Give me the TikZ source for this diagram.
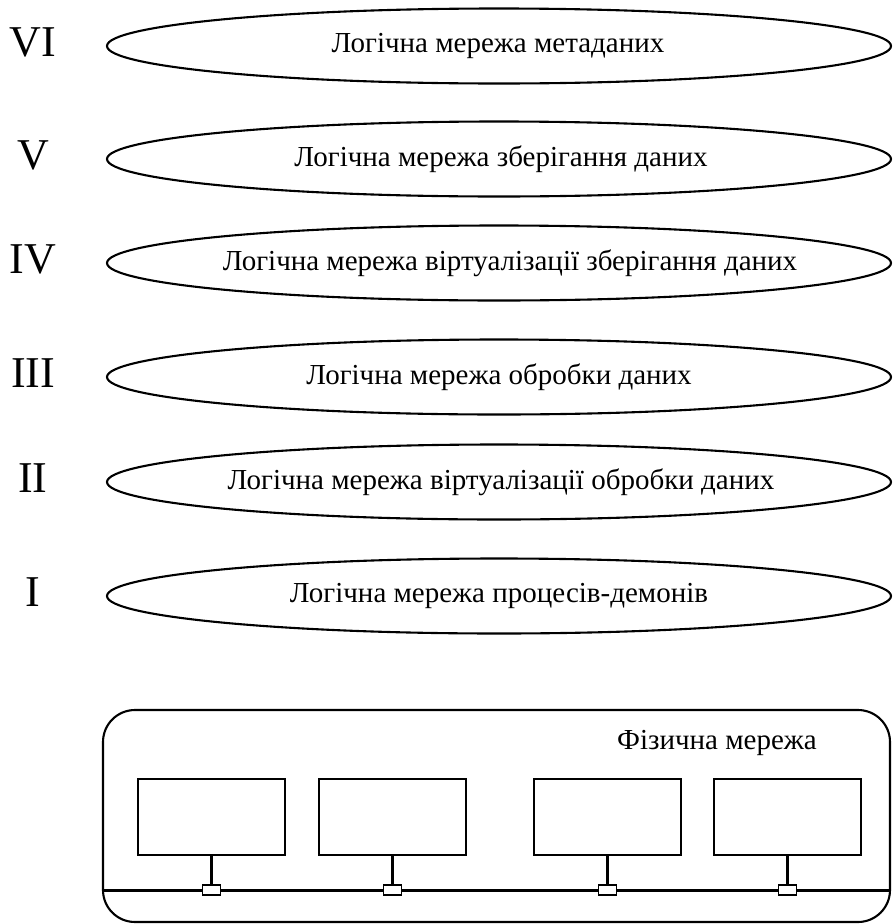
\documentclass[tikz,border=0pt]{standalone}
\usepackage{fontspec}
\setmainfont{Liberation Serif}
\usetikzlibrary{positioning,shapes.geometric}
\tikzset{every picture/.style={
  line width=2.1pt              % Heavy strokes, as in the scan.
  }
}

\begin{document}
\begin{tikzpicture}[
        x=1pt, y=-1pt,
        layer/.style={
          draw,
          ellipse,
          minimum width=784pt,
          minimum height=75pt,
          inner sep=0pt
        },
        caption/.style={
          inner sep=0pt,
          font=\fontsize{29}{34}\selectfont
        },
        numeral/.style={
          inner sep=0pt,
          font=\fontsize{44}{50}\selectfont
        },
        host/.style={
          draw,
          minimum width=147pt,
          minimum height=76pt,
          inner sep=0pt
        },
        port/.style={
          draw,
          fill=white,
          line width=1.6pt,
          minimum width=18pt,
          minimum height=10pt,
          inner sep=0pt
        }]

        \useasboundingbox (0,0) rectangle (892,924);

        % Helper macro: one logical network with its number.
        \def\layer#1#2#3#4#5{
          \node[layer] (l#1) at (499,#3) {};
          \node[caption] (c#1) at (#4,#3) {#5};
          \node[numeral] (n#1) at (33,#3-4) {#2};}

        % Draw the logical networks.
        \layer{6}{VI}{46}{498}{Логічна мережа метаданих}
        \layer{5}{V}{159}{501}{Логічна мережа зберігання даних}
        \layer{4}{IV}{263}{510}{Логічна мережа віртуалізації зберігання даних}
        \layer{3}{III}{377}{499}{Логічна мережа обробки даних}
        \layer{2}{II}{482}{501}{Логічна мережа віртуалізації обробки даних}
        \layer{1}{I}{596}{499}{Логічна мережа процесів-демонів}

        % Physical network.
        \node[draw, rounded corners=32pt, minimum width=787pt,
          minimum height=212pt] (net) at (496.5,816) {};
        \node[caption] (netlabel) at (717,743) {Фізична мережа};

        \coordinate (bus) at (0,890);
        \draw[line width=3pt] (net.west |- bus) -- (net.east |- bus);

        % Hosts on the bus.
        \foreach \i/\x in {1/211.5,2/392.5,3/607.5,4/787.5} {
          \node[host] (h\i) at (\x,817) {};
          \node[port] (p\i) at (\x,890) {};
          \draw (h\i.south) -- (p\i.north);
        }
      \end{tikzpicture}
\end{document}
